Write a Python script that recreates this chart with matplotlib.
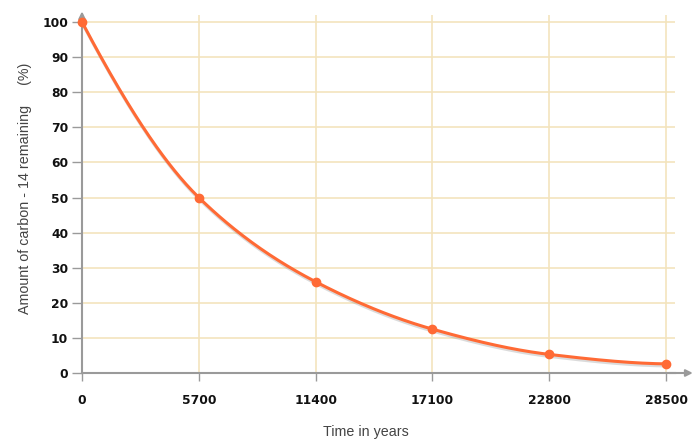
import numpy as np
import matplotlib
matplotlib.use("Agg")
import matplotlib.pyplot as plt
import matplotlib.patheffects as pe

years = [0, 5700, 11400, 17100, 22800, 28500]
remaining = [100, 50, 26, 12.5, 5.3, 2.6]
y_ticks = [0, 10, 20, 30, 40, 50, 60, 70, 80, 90, 100]
x_label = "Time in years"
y_label = "Amount of carbon - 14 remaining     (%)"

line_color = "#ff6a35"
grid_color = "#f3e4bd"
axis_color = "#9a9a9a"

plt.rcParams['font.family'] = ['Liberation Sans', 'DejaVu Sans']


def pchip(x, y, xs):
    x = np.asarray(x, float)
    y = np.asarray(y, float)
    h = np.diff(x)
    d = np.diff(y) / h
    n = len(x)
    m = np.zeros(n)
    for k in range(1, n - 1):
        if d[k - 1] * d[k] > 0:
            w1 = 2 * h[k] + h[k - 1]
            w2 = h[k] + 2 * h[k - 1]
            m[k] = (w1 + w2) / (w1 / d[k - 1] + w2 / d[k])
    m[0] = ((2 * h[0] + h[1]) * d[0] - h[0] * d[1]) / (h[0] + h[1])
    if np.sign(m[0]) != np.sign(d[0]):
        m[0] = 0
    elif np.sign(d[0]) != np.sign(d[1]) and abs(m[0]) > abs(3 * d[0]):
        m[0] = 3 * d[0]
    m[-1] = ((2 * h[-1] + h[-2]) * d[-1] - h[-1] * d[-2]) / (h[-1] + h[-2])
    if np.sign(m[-1]) != np.sign(d[-1]):
        m[-1] = 0
    elif np.sign(d[-1]) != np.sign(d[-2]) and abs(m[-1]) > abs(3 * d[-1]):
        m[-1] = 3 * d[-1]
    idx = np.clip(np.searchsorted(x, xs) - 1, 0, n - 2)
    t = (xs - x[idx]) / h[idx]
    h00 = 2 * t**3 - 3 * t**2 + 1
    h10 = t**3 - 2 * t**2 + t
    h01 = -2 * t**3 + 3 * t**2
    h11 = t**3 - t**2
    return h00 * y[idx] + h10 * h[idx] * m[idx] + h01 * y[idx + 1] + h11 * h[idx] * m[idx + 1]


W, H = 697, 440
fig = plt.figure(figsize=(W / 100, H / 100), dpi=100)
left, right, bottom, top = 82, 675, 373, 15
ax = fig.add_axes([left / W, 1 - bottom / H, (right - left) / W, (bottom - top) / H])

x_max = years[-1] * (right - left) / (666 - left)
y_max = 100 * (bottom - top) / (bottom - 22)
ax.set_xlim(0, x_max)
ax.set_ylim(0, y_max)

tick_font = dict(family='DejaVu Sans', fontweight='bold', fontsize=8.8, color='#111111')
ax.set_xticks(years)
ax.set_yticks(y_ticks)
ax.set_xticklabels([str(v) for v in years], **tick_font)
ax.set_yticklabels([str(v) for v in y_ticks], **tick_font)
ax.tick_params(axis='x', length=6, width=1, color=axis_color, pad=9)
ax.tick_params(axis='y', length=7, width=1, color=axis_color, pad=3)

ax.grid(True, color=grid_color, linewidth=1.2)
ax.set_axisbelow(True)

for s in ['top', 'right']:
    ax.spines[s].set_visible(False)
for s in ['left', 'bottom']:
    ax.spines[s].set_color(axis_color)
    ax.spines[s].set_linewidth(1.5)

# axis arrows
ax.annotate('', xy=(1.03, 0), xycoords='axes fraction', xytext=(0.99, 0),
            arrowprops=dict(arrowstyle='-|>', color=axis_color, lw=1.5,
                            mutation_scale=10, shrinkA=0, shrinkB=0),
            annotation_clip=False)
ax.annotate('', xy=(0, 1.01), xycoords='axes fraction', xytext=(0, 0.98),
            arrowprops=dict(arrowstyle='-|>', color=axis_color, lw=1.5,
                            mutation_scale=10, shrinkA=0, shrinkB=0),
            annotation_clip=False)

xs = np.linspace(years[0], years[-1], 400)
ys = pchip(years, remaining, xs)
ax.plot(xs, ys, color=line_color, linewidth=2.2, solid_capstyle='round', zorder=3,
        path_effects=[pe.SimpleLineShadow(offset=(0.5, -1.5), shadow_color='#999999', alpha=0.35),
                      pe.Normal()], clip_on=False)
ax.plot(years, remaining, 'o', color=line_color, markersize=6, zorder=4, clip_on=False)

ax.set_xlabel(x_label, fontsize=10.3, color='#444444')
ax.set_ylabel(y_label, fontsize=10.3, color='#444444')
ax.xaxis.set_label_coords((366 - left) / (right - left), -(432 - bottom) / (bottom - top))
ax.yaxis.set_label_coords(-(82 - 25) / (right - left), (bottom - 188) / (bottom - top))
ax.xaxis.label.set_verticalalignment('center')
ax.yaxis.label.set_verticalalignment('center')

fig.savefig("out.png", dpi=100)
